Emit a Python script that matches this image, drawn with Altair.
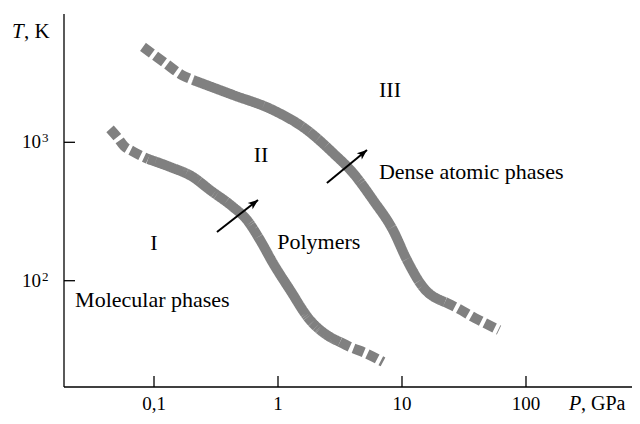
import altair as alt
import pandas as pd

# ---- data (P in GPa, T in K) ----
lower_dash_a_P = [0.0442, 0.0512, 0.0573, 0.0665, 0.0895]
lower_dash_a_T = [1248, 1074, 940, 865, 757]
lower_solid_P = [0.0895, 0.1346, 0.2063, 0.283, 0.4335, 0.562, 0.716, 0.912, 1.25, 1.81, 2.48, 3.16]
lower_solid_T = [757, 664, 561, 452, 341, 275, 197, 134, 85.8, 52.0, 40.5, 36.1]
lower_dash_b_P = [3.16, 3.81, 5.03, 7.03]
lower_dash_b_T = [36.1, 33.2, 30.1, 25.9]

upper_dash_a_P = [0.0815, 0.1227, 0.168, 0.2063]
upper_dash_a_T = [4890, 3743, 3062, 2818]
upper_solid_P = [0.2063, 0.4335, 0.912, 1.713, 2.78, 4.03, 5.84, 8.46, 10.97, 14.76, 22.2]
upper_solid_T = [2818, 2198, 1711, 1227, 837, 600, 383, 232, 141, 90, 70.1]
upper_dash_b_P = [22.2, 27.8, 38.8, 60.6]
upper_dash_b_T = [70.1, 63.5, 53.7, 44.0]

x_ticks = [0.1, 1, 10, 100]
x_tick_labels = ["0,1", "1", "10", "100"]
y_ticks = [100, 1000]
y_tick_base = ["10", "10"]
y_tick_exp = ["2", "3"]

region_labels = ["III", "II", "I"]
region_P = [8.0, 0.729, 0.1]
region_T = [2388, 809, 187]

phase_labels = ["Polymers", "Dense atomic phases", "Molecular phases"]
phase_P = [0.985, 6.52, 0.0231]
phase_T = [190.6, 610, 72.6]

arrow_P = [0.322, 2.48]
arrow_T = [225, 508]
arrow_P2 = [0.690, 5.22]
arrow_T2 = [383, 880]
arrow_angle = [52, 50.5]

# ---- build tables ----
segments = [
    ("lower_a", "dashed", lower_dash_a_P, lower_dash_a_T),
    ("lower_s", "solid", lower_solid_P, lower_solid_T),
    ("lower_b", "dashed", lower_dash_b_P, lower_dash_b_T),
    ("upper_a", "dashed", upper_dash_a_P, upper_dash_a_T),
    ("upper_s", "solid", upper_solid_P, upper_solid_T),
    ("upper_b", "dashed", upper_dash_b_P, upper_dash_b_T),
]
rows = []
for seg, style, ps, ts in segments:
    for i, (p, t) in enumerate(zip(ps, ts)):
        rows.append({"P": p, "T": t, "seg": seg, "style": style, "order": i})
curves = pd.DataFrame(rows)

xt = pd.DataFrame({"P": x_ticks, "label": x_tick_labels})
yt = pd.DataFrame({"T": y_ticks, "base": y_tick_base, "exp": y_tick_exp})
regions = pd.DataFrame({"P": region_P, "T": region_T, "label": region_labels})
phases = pd.DataFrame({"P": phase_P, "T": phase_T, "label": phase_labels})
arrows = pd.DataFrame({"P": arrow_P, "T": arrow_T, "P2": arrow_P2, "T2": arrow_T2, "angle": arrow_angle})
one = pd.DataFrame({"k": [0]})

W, H = 568, 373
FONT = "Liberation Serif"

xs = alt.Scale(type="log", domain=[0.0188, 716], nice=False)
ys = alt.Scale(type="log", domain=[17.06, 8453], nice=False)
X = alt.X("P:Q", scale=xs, axis=None)
Y = alt.Y("T:Q", scale=ys, axis=None)

lines = alt.Chart(curves).mark_line(
    strokeWidth=10, color="#808080", strokeCap="butt", interpolate="monotone"
).encode(
    x=X, y=Y, detail="seg:N", order="order:Q",
    strokeDash=alt.StrokeDash("style:N", scale=alt.Scale(domain=["solid", "dashed"], range=[[1, 0], [11, 4]]), legend=None),
)

shafts = alt.Chart(arrows).mark_rule(color="black", strokeWidth=2).encode(
    x=X, y=Y, x2="P2:Q", y2="T2:Q"
)
heads = alt.Chart(arrows).mark_point(
    shape="M0,0 L-0.8,2 L0,1.5 L0.8,2 Z", filled=True, color="black", opacity=1, size=100
).encode(
    x=alt.X("P2:Q", scale=xs, axis=None), y=alt.Y("T2:Q", scale=ys, axis=None),
    angle=alt.Angle("angle:Q", scale=None),
)

reg_text = alt.Chart(regions).mark_text(font=FONT, fontSize=22, color="black", align="center", baseline="middle").encode(
    x=X, y=Y, text="label:N"
)
phase_text = alt.Chart(phases).mark_text(font=FONT, fontSize=22, color="black", align="left", baseline="middle").encode(
    x=X, y=Y, text="label:N"
)

x_domain = alt.Chart(one).mark_rule(color="black", strokeWidth=1.3).encode(
    x=alt.value(0), x2=alt.value(W), y=alt.value(H)
)
y_domain = alt.Chart(one).mark_rule(color="black", strokeWidth=1.3).encode(
    x=alt.value(0), y=alt.value(0), y2=alt.value(H)
)
x_tick_marks = alt.Chart(xt).mark_rule(color="black", strokeWidth=1.3).encode(
    x=X, y=alt.value(H), y2=alt.value(H - 11)
)
y_tick_marks = alt.Chart(yt).mark_rule(color="black", strokeWidth=1.3).encode(
    y=Y, x=alt.value(0), x2=alt.value(11)
)
x_tick_text = alt.Chart(xt).mark_text(font=FONT, fontSize=19, color="black", baseline="middle").encode(
    x=X, y=alt.value(H + 17), text="label:N"
)
y_tick_text = alt.Chart(yt).mark_text(font=FONT, fontSize=19, color="black", align="right", baseline="middle").encode(
    x=alt.value(-23), y=Y, text="base:N"
)
y_tick_sup = alt.Chart(yt).mark_text(font=FONT, fontSize=13, color="black", align="left", baseline="middle", dy=-4).encode(
    x=alt.value(-22), y=Y, text="exp:N"
)

t_title = alt.Chart(one).mark_text(font=FONT, fontSize=21, fontStyle="italic", color="black", align="left", baseline="middle").encode(
    x=alt.value(-52), y=alt.value(18), text=alt.value("T")
)
t_title2 = alt.Chart(one).mark_text(font=FONT, fontSize=21, color="black", align="left", baseline="middle").encode(
    x=alt.value(-40), y=alt.value(18), text=alt.value(", K")
)
p_title = alt.Chart(one).mark_text(font=FONT, fontSize=20, fontStyle="italic", color="black", align="left", baseline="middle").encode(
    x=alt.value(505), y=alt.value(H + 17), text=alt.value("P")
)
p_title2 = alt.Chart(one).mark_text(font=FONT, fontSize=20, color="black", align="left", baseline="middle").encode(
    x=alt.value(517), y=alt.value(H + 17), text=alt.value(", GPa")
)

chart = alt.layer(
    lines, shafts, heads, reg_text, phase_text,
    x_domain, y_domain, x_tick_marks, y_tick_marks, x_tick_text, y_tick_text, y_tick_sup,
    t_title, t_title2, p_title, p_title2,
).properties(
    width=W, height=H,
    padding={"left": 56, "top": 6, "right": 0, "bottom": 29},
    autosize=alt.AutoSizeParams(type="none"),
).configure_view(stroke=None)

chart.save("out.html", embed_options={"renderer": "svg", "actions": False})
